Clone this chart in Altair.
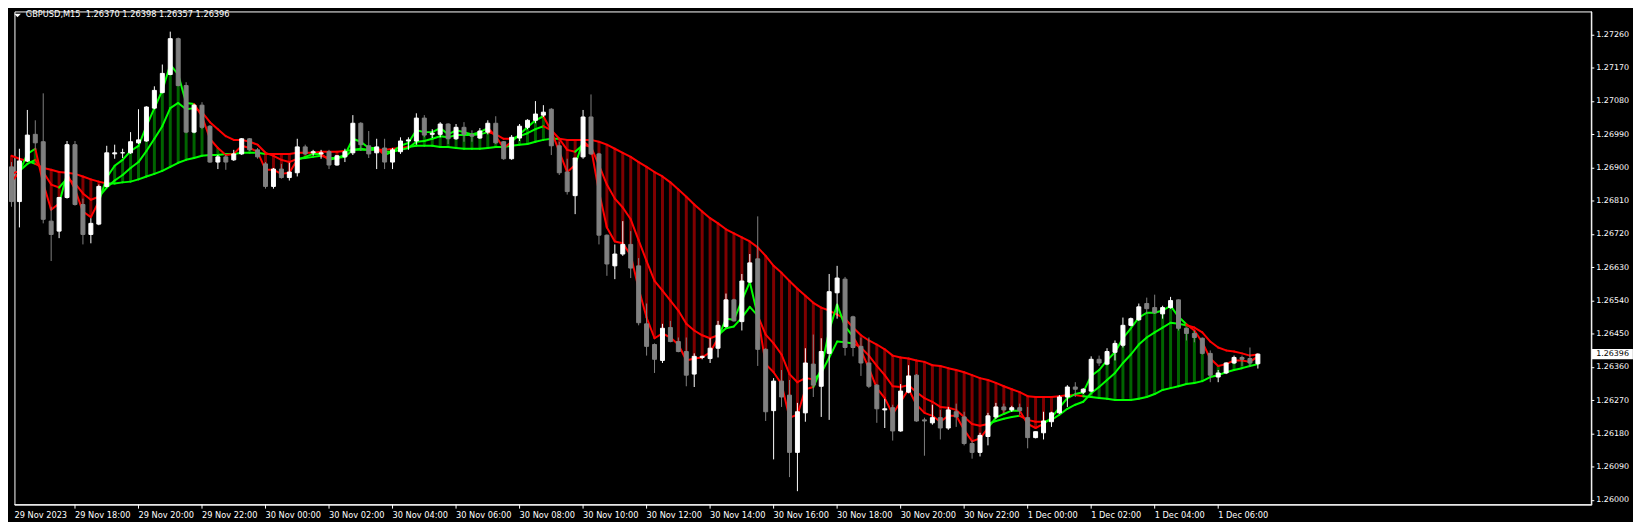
import altair as alt
import pandas as pd

symbol = "GBPUSD,M15"

open_ = [
    1.26903, 1.26809, 1.26919, 1.26991, 1.26971, 1.26756, 1.26729, 1.26820, 1.26963, 1.26801,
    1.26720, 1.26748, 1.26850, 1.26938, 1.26941, 1.26941, 1.26968, 1.26973, 1.27062, 1.27104,
    1.27153, 1.27250, 1.27123, 1.26997, 1.27070, 1.27013, 1.26916, 1.26930, 1.26922, 1.26938,
    1.26979, 1.26949, 1.26911, 1.26850, 1.26897, 1.26874, 1.26887, 1.26957, 1.26941, 1.26938,
    1.26944, 1.26908, 1.26930, 1.26941, 1.27021, 1.26960, 1.26941, 1.26954, 1.26916, 1.26944,
    1.26973, 1.26973, 1.27035, 1.26991, 1.26991, 1.27019, 1.26979, 1.27010, 1.26991, 1.26981,
    1.26997, 1.27021, 1.26971, 1.26925, 1.26981, 1.27010, 1.27029, 1.27043, 1.27059, 1.26960,
    1.26889, 1.26825, 1.26930, 1.27038, 1.26938, 1.26718, 1.26635, 1.26667, 1.26693, 1.26635,
    1.26478, 1.26422, 1.26379, 1.26468, 1.26430, 1.26403, 1.26342, 1.26387, 1.26384, 1.26412,
    1.26471, 1.26543, 1.26484, 1.26591, 1.26654, 1.26409, 1.26243, 1.26323, 1.26285, 1.26130,
    1.26237, 1.26369, 1.26309, 1.26398, 1.26562, 1.26599, 1.26497, 1.26417, 1.26372, 1.26312,
    1.26245, 1.26251, 1.26188, 1.26293, 1.26339, 1.26218, 1.26210, 1.26224, 1.26196, 1.26240,
    1.26226, 1.26154, 1.26130, 1.26173, 1.26226, 1.26253, 1.26245, 1.26251, 1.26224, 1.26170,
    1.26183, 1.26213, 1.26237, 1.26280, 1.26307, 1.26293, 1.26296, 1.26382, 1.26369, 1.26401,
    1.26420, 1.26474, 1.26489, 1.26533, 1.26522, 1.26505, 1.26522, 1.26543, 1.26466, 1.26452,
    1.26439, 1.26398, 1.26334, 1.26345, 1.26372, 1.26387, 1.26384, 1.26370,
]
high = [
    1.26916, 1.26952, 1.27057, 1.27029, 1.27102, 1.26795, 1.26822, 1.26973, 1.26973, 1.26817,
    1.26764, 1.26855, 1.26960, 1.26963, 1.26952, 1.26997, 1.27059, 1.27067, 1.27121, 1.27180,
    1.27269, 1.27253, 1.27132, 1.27073, 1.27078, 1.27016, 1.26935, 1.26935, 1.26949, 1.26981,
    1.26981, 1.26954, 1.26916, 1.26900, 1.26911, 1.26914, 1.26979, 1.26963, 1.26949, 1.26949,
    1.26949, 1.26935, 1.26952, 1.27043, 1.27024, 1.27000, 1.26979, 1.26979, 1.26954, 1.26983,
    1.26983, 1.27048, 1.27043, 1.27005, 1.27024, 1.27021, 1.27019, 1.27024, 1.27002, 1.27008,
    1.27029, 1.27040, 1.26973, 1.26989, 1.27019, 1.27032, 1.27081, 1.27070, 1.27062, 1.26971,
    1.26925, 1.26927, 1.27057, 1.27099, 1.26941, 1.26720, 1.26693, 1.26756, 1.26729, 1.26656,
    1.26533, 1.26425, 1.26478, 1.26486, 1.26441, 1.26441, 1.26398, 1.26392, 1.26439, 1.26486,
    1.26560, 1.26546, 1.26613, 1.26667, 1.26769, 1.26412, 1.26331, 1.26353, 1.26326, 1.26264,
    1.26412, 1.26449, 1.26439, 1.26613, 1.26635, 1.26605, 1.26500, 1.26441, 1.26441, 1.26315,
    1.26275, 1.26259, 1.26315, 1.26366, 1.26342, 1.26224, 1.26259, 1.26245, 1.26253, 1.26262,
    1.26240, 1.26162, 1.26183, 1.26237, 1.26264, 1.26262, 1.26256, 1.26262, 1.26253, 1.26186,
    1.26240, 1.26240, 1.26285, 1.26312, 1.26320, 1.26304, 1.26390, 1.26392, 1.26412, 1.26433,
    1.26495, 1.26495, 1.26533, 1.26549, 1.26557, 1.26527, 1.26551, 1.26544, 1.26468, 1.26460,
    1.26441, 1.26406, 1.26353, 1.26374, 1.26392, 1.26392, 1.26414, 1.26398,
]
low = [
    1.26795, 1.26739, 1.26916, 1.26949, 1.26750, 1.26648, 1.26710, 1.26817, 1.26798, 1.26693,
    1.26696, 1.26745, 1.26847, 1.26925, 1.26927, 1.26938, 1.26965, 1.26971, 1.27059, 1.27102,
    1.27151, 1.27121, 1.26994, 1.26994, 1.27005, 1.26914, 1.26897, 1.26895, 1.26919, 1.26935,
    1.26946, 1.26925, 1.26844, 1.26844, 1.26871, 1.26866, 1.26877, 1.26935, 1.26933, 1.26925,
    1.26897, 1.26906, 1.26916, 1.26935, 1.26946, 1.26927, 1.26897, 1.26897, 1.26897, 1.26938,
    1.26949, 1.26963, 1.26983, 1.26981, 1.26983, 1.26965, 1.26976, 1.26971, 1.26971, 1.26979,
    1.26991, 1.26965, 1.26922, 1.26922, 1.26973, 1.27005, 1.27021, 1.27038, 1.26935, 1.26881,
    1.26828, 1.26775, 1.26925, 1.26935, 1.26693, 1.26608, 1.26599, 1.26662, 1.26602, 1.26474,
    1.26392, 1.26345, 1.26372, 1.26428, 1.26401, 1.26309, 1.26307, 1.26382, 1.26372, 1.26387,
    1.26468, 1.26484, 1.26460, 1.26589, 1.26364, 1.26215, 1.26111, 1.26253, 1.26063, 1.26025,
    1.26213, 1.26280, 1.26226, 1.26218, 1.26492, 1.26392, 1.26390, 1.26337, 1.26304, 1.26210,
    1.26196, 1.26162, 1.26186, 1.26290, 1.26213, 1.26121, 1.26205, 1.26165, 1.26191, 1.26199,
    1.26149, 1.26113, 1.26119, 1.26149, 1.26221, 1.26237, 1.26240, 1.26232, 1.26141, 1.26168,
    1.26165, 1.26199, 1.26234, 1.26253, 1.26280, 1.26288, 1.26293, 1.26364, 1.26366, 1.26379,
    1.26414, 1.26471, 1.26486, 1.26505, 1.26505, 1.26492, 1.26519, 1.26460, 1.26433, 1.26428,
    1.26395, 1.26320, 1.26320, 1.26342, 1.26369, 1.26364, 1.26361, 1.26357,
]
close = [
    1.26809, 1.26919, 1.26989, 1.26968, 1.26761, 1.26720, 1.26820, 1.26963, 1.26801, 1.26720,
    1.26750, 1.26850, 1.26941, 1.26941, 1.26941, 1.26971, 1.26976, 1.27065, 1.27110, 1.27156,
    1.27250, 1.27123, 1.26997, 1.27070, 1.27010, 1.26916, 1.26930, 1.26916, 1.26938, 1.26979,
    1.26949, 1.26930, 1.26850, 1.26897, 1.26874, 1.26889, 1.26957, 1.26938, 1.26944, 1.26941,
    1.26908, 1.26933, 1.26944, 1.27021, 1.26963, 1.26938, 1.26957, 1.26916, 1.26949, 1.26973,
    1.26976, 1.27035, 1.26989, 1.26994, 1.27019, 1.26979, 1.27010, 1.26991, 1.26986, 1.27000,
    1.27021, 1.26968, 1.26925, 1.26983, 1.27013, 1.27029, 1.27046, 1.27051, 1.26960, 1.26887,
    1.26836, 1.26927, 1.27038, 1.26938, 1.26718, 1.26640, 1.26667, 1.26693, 1.26629, 1.26481,
    1.26417, 1.26382, 1.26466, 1.26430, 1.26403, 1.26339, 1.26390, 1.26390, 1.26412, 1.26474,
    1.26543, 1.26486, 1.26594, 1.26643, 1.26409, 1.26240, 1.26323, 1.26280, 1.26130, 1.26240,
    1.26372, 1.26312, 1.26403, 1.26565, 1.26602, 1.26414, 1.26414, 1.26372, 1.26309, 1.26248,
    1.26248, 1.26188, 1.26296, 1.26337, 1.26215, 1.26215, 1.26224, 1.26196, 1.26245, 1.26226,
    1.26154, 1.26130, 1.26176, 1.26229, 1.26253, 1.26245, 1.26251, 1.26243, 1.26170, 1.26186,
    1.26215, 1.26237, 1.26280, 1.26307, 1.26301, 1.26301, 1.26382, 1.26372, 1.26403, 1.26425,
    1.26474, 1.26492, 1.26524, 1.26519, 1.26508, 1.26522, 1.26541, 1.26466, 1.26452, 1.26441,
    1.26398, 1.26339, 1.26345, 1.26372, 1.26387, 1.26382, 1.26372, 1.26396,
]
ma_fast = [
    1.26863, 1.26889, 1.26938, 1.26952, 1.26858, 1.26787, 1.26804, 1.26884, 1.26842, 1.26782,
    1.26767, 1.26809, 1.26874, 1.26906, 1.26922, 1.26946, 1.26960, 1.27013, 1.27062, 1.27110,
    1.27180, 1.27153, 1.27076, 1.27073, 1.27040, 1.26979, 1.26954, 1.26935, 1.26938, 1.26960,
    1.26954, 1.26944, 1.26895, 1.26895, 1.26884, 1.26887, 1.26922, 1.26930, 1.26938, 1.26938,
    1.26922, 1.26927, 1.26935, 1.26979, 1.26971, 1.26954, 1.26954, 1.26935, 1.26944, 1.26960,
    1.26968, 1.27002, 1.26997, 1.26997, 1.27008, 1.26991, 1.27002, 1.26997, 1.26991, 1.26997,
    1.27008, 1.26986, 1.26954, 1.26971, 1.26991, 1.27010, 1.27029, 1.27040, 1.27000, 1.26944,
    1.26889, 1.26908, 1.26973, 1.26954, 1.26836, 1.26739, 1.26701, 1.26696, 1.26664, 1.26573,
    1.26495, 1.26439, 1.26452, 1.26441, 1.26422, 1.26379, 1.26384, 1.26387, 1.26401, 1.26439,
    1.26492, 1.26489, 1.26541, 1.26591, 1.26500, 1.26369, 1.26347, 1.26315, 1.26224, 1.26232,
    1.26301, 1.26307, 1.26356, 1.26460, 1.26530, 1.26471, 1.26444, 1.26406, 1.26358, 1.26304,
    1.26277, 1.26234, 1.26267, 1.26301, 1.26259, 1.26237, 1.26229, 1.26213, 1.26229, 1.26229,
    1.26191, 1.26160, 1.26168, 1.26196, 1.26224, 1.26234, 1.26243, 1.26243, 1.26207, 1.26196,
    1.26207, 1.26224, 1.26251, 1.26277, 1.26288, 1.26293, 1.26337, 1.26353, 1.26379, 1.26401,
    1.26439, 1.26466, 1.26495, 1.26508, 1.26508, 1.26514, 1.26527, 1.26497, 1.26477, 1.26460,
    1.26428, 1.26384, 1.26364, 1.26369, 1.26379, 1.26379, 1.26375, 1.26390,
]
ma_mid = [
    1.26884, 1.26892, 1.26911, 1.26922, 1.26889, 1.26855, 1.26847, 1.26871, 1.26858, 1.26831,
    1.26814, 1.26822, 1.26847, 1.26866, 1.26881, 1.26900, 1.26916, 1.26946, 1.26979, 1.27013,
    1.27062, 1.27076, 1.27059, 1.27062, 1.27051, 1.27024, 1.27005, 1.26986, 1.26976, 1.26976,
    1.26971, 1.26963, 1.26941, 1.26933, 1.26922, 1.26916, 1.26925, 1.26927, 1.26930, 1.26933,
    1.26927, 1.26927, 1.26930, 1.26949, 1.26952, 1.26949, 1.26952, 1.26944, 1.26944, 1.26949,
    1.26954, 1.26971, 1.26973, 1.26979, 1.26986, 1.26983, 1.26989, 1.26989, 1.26989, 1.26991,
    1.26997, 1.26991, 1.26979, 1.26979, 1.26986, 1.26994, 1.27005, 1.27013, 1.27002, 1.26979,
    1.26949, 1.26944, 1.26963, 1.26957, 1.26908, 1.26855, 1.26817, 1.26793, 1.26761, 1.26704,
    1.26648, 1.26594, 1.26568, 1.26541, 1.26514, 1.26478, 1.26460, 1.26447, 1.26439, 1.26447,
    1.26466, 1.26471, 1.26495, 1.26524, 1.26500, 1.26449, 1.26425, 1.26395, 1.26342, 1.26320,
    1.26331, 1.26328, 1.26345, 1.26387, 1.26430, 1.26428, 1.26425, 1.26414, 1.26392, 1.26364,
    1.26339, 1.26309, 1.26307, 1.26312, 1.26293, 1.26277, 1.26267, 1.26253, 1.26251, 1.26245,
    1.26226, 1.26207, 1.26202, 1.26207, 1.26215, 1.26221, 1.26226, 1.26229, 1.26218, 1.26213,
    1.26213, 1.26218, 1.26232, 1.26248, 1.26259, 1.26267, 1.26290, 1.26307, 1.26326, 1.26345,
    1.26372, 1.26395, 1.26422, 1.26441, 1.26455, 1.26468, 1.26481, 1.26478, 1.26474, 1.26468,
    1.26455, 1.26430, 1.26414, 1.26406, 1.26403, 1.26398, 1.26392, 1.26395,
]
ma_slow = [
    1.26933, 1.26925, 1.26919, 1.26911, 1.26900, 1.26895, 1.26889, 1.26887, 1.26884, 1.26877,
    1.26869, 1.26863, 1.26858, 1.26858, 1.26861, 1.26863, 1.26869, 1.26877, 1.26884, 1.26892,
    1.26903, 1.26914, 1.26922, 1.26927, 1.26933, 1.26935, 1.26935, 1.26938, 1.26938, 1.26941,
    1.26941, 1.26941, 1.26938, 1.26938, 1.26938, 1.26938, 1.26941, 1.26941, 1.26941, 1.26944,
    1.26944, 1.26944, 1.26946, 1.26949, 1.26949, 1.26949, 1.26949, 1.26949, 1.26952, 1.26954,
    1.26957, 1.26960, 1.26960, 1.26960, 1.26957, 1.26957, 1.26954, 1.26952, 1.26952, 1.26952,
    1.26954, 1.26957, 1.26957, 1.26960, 1.26963, 1.26965, 1.26971, 1.26976, 1.26979, 1.26979,
    1.26976, 1.26976, 1.26976, 1.26976, 1.26971, 1.26963, 1.26952, 1.26941, 1.26930, 1.26916,
    1.26903, 1.26889, 1.26877, 1.26861, 1.26842, 1.26822, 1.26801, 1.26782, 1.26764, 1.26750,
    1.26734, 1.26723, 1.26712, 1.26701, 1.26685, 1.26662, 1.26635, 1.26616, 1.26594, 1.26573,
    1.26554, 1.26535, 1.26522, 1.26514, 1.26503, 1.26492, 1.26468, 1.26447, 1.26433, 1.26422,
    1.26409, 1.26392, 1.26387, 1.26384, 1.26379, 1.26375, 1.26366, 1.26364, 1.26358, 1.26353,
    1.26347, 1.26339, 1.26331, 1.26326, 1.26318, 1.26309, 1.26301, 1.26293, 1.26282, 1.26280,
    1.26280, 1.26280, 1.26282, 1.26285, 1.26285, 1.26282, 1.26280, 1.26277, 1.26275, 1.26272,
    1.26272, 1.26272, 1.26275, 1.26280, 1.26288, 1.26299, 1.26304, 1.26309, 1.26315, 1.26318,
    1.26323, 1.26334, 1.26339, 1.26347, 1.26353, 1.26358, 1.26364, 1.26369,
]

time_labels = [
    "29 Nov 2023", "29 Nov 18:00", "29 Nov 20:00", "29 Nov 22:00", "30 Nov 00:00",
    "30 Nov 02:00", "30 Nov 04:00", "30 Nov 06:00", "30 Nov 08:00", "30 Nov 10:00",
    "30 Nov 12:00", "30 Nov 14:00", "30 Nov 16:00", "30 Nov 18:00", "30 Nov 20:00",
    "30 Nov 22:00", "1 Dec 00:00", "1 Dec 02:00", "1 Dec 04:00", "1 Dec 06:00",
]
bars_per_label = 8  # 2 hours of 15-minute bars
price_ticks = [
    1.26000, 1.26090, 1.26180, 1.26270, 1.26360, 1.26450, 1.26540, 1.26630,
    1.26720, 1.26810, 1.26900, 1.26990, 1.27080, 1.27170, 1.27260,
]

BULL, BEAR = "#FFFFFF", "#808080"
UP_LINE, DN_LINE = "#00FF00", "#FF0000"
UP_FILL, DN_FILL = "#006400", "#800000"
FONT = "DejaVu Sans"

n = len(close)
bars = pd.DataFrame({
    "i": list(range(n)), "o": open_, "h": high, "l": low, "c": close,
    "f": ma_fast, "m": ma_mid, "s": ma_slow,
})
bars["col"] = [BULL if c >= o else BEAR for o, c in zip(open_, close)]
bars["fillcol"] = [UP_FILL if f >= s else DN_FILL for f, s in zip(ma_fast, ma_slow)]
bars["xl"] = bars["i"] - 0.25
bars["xr"] = bars["i"] + 0.25

rows = []
for i in range(1, n):
    fm = UP_LINE if ma_fast[i] >= ma_mid[i] else DN_LINE
    ms = UP_LINE if ma_mid[i] >= ma_slow[i] else DN_LINE
    for name, arr, colr in (("slow", ma_slow, ms), ("mid", ma_mid, fm), ("fast", ma_fast, fm)):
        rows.append({"line": name, "x0": i - 1, "x1": i, "y0": arr[i - 1], "y1": arr[i], "col": colr})
segs = pd.DataFrame(rows)

W, H = 1589, 497
xs = alt.Scale(domain=[0.375, 199.0], nice=False, zero=False)
ys = alt.Scale(domain=[1.259885, 1.273237], nice=False, zero=False)

tick_idx = list(range(1, len(time_labels)))  # first label drawn separately (its tick sits under the page edge)
label_js = "[" + ",".join("'" + t + "'" for t in time_labels) + "]"
x_axis = alt.Axis(
    orient="bottom", values=[bars_per_label * j for j in tick_idx],
    labelExpr=label_js + "[round(datum.value / " + str(bars_per_label) + ")]",
    grid=False, title=None, domainColor="#FFFFFF", tickColor="#FFFFFF", tickSize=4,
    labelColor="#FFFFFF", labelFont=FONT, labelFontSize=8.3, labelAlign="left",
    labelBaseline="top", labelPadding=2, labelOverlap=False, labelFlush=False,
    labelBound=False, translate=0,
)
y_axis = alt.Axis(
    orient="right", values=price_ticks, format=".5f", grid=False, title=None,
    domainColor="#FFFFFF", tickColor="#FFFFFF", tickSize=3, labelColor="#FFFFFF",
    labelFont=FONT, labelFontSize=8, labelPadding=2, labelOverlap=False,
    labelFlush=False, translate=0,
)


def X(field):
    return alt.X(field, scale=xs, axis=x_axis)


def Y(field):
    return alt.Y(field, scale=ys, axis=y_axis)


fill_layer = alt.Chart(bars).mark_rule(strokeWidth=3).encode(
    x=X("i:Q"), y=Y("f:Q"), y2="s:Q",
    color=alt.Color("fillcol:N", scale=None),
)
line_layer = alt.Chart(segs).mark_rule(strokeWidth=2, strokeCap="round").encode(
    x=X("x0:Q"), x2="x1:Q", y=Y("y0:Q"), y2="y1:Q",
    color=alt.Color("col:N", scale=None),
)
wick_layer = alt.Chart(bars).mark_rule(strokeWidth=1).encode(
    x=X("i:Q"), y=Y("l:Q"), y2="h:Q",
    color=alt.Color("col:N", scale=None),
)
body_layer = alt.Chart(bars).mark_rect(strokeWidth=1).encode(
    x=X("xl:Q"), x2="xr:Q", y=Y("o:Q"), y2="c:Q",
    fill=alt.Fill("col:N", scale=None),
    stroke=alt.Stroke("col:N", scale=None),
)

title_text = symbol + "\u00a0 " + " ".join(f"{v:.5f}" for v in (open_[-1], high[-1], low[-1], close[-1]))
title_df = pd.DataFrame({"t": [title_text]})
title_layer = alt.Chart(title_df).mark_text(
    align="left", baseline="middle", color="#FFFFFF", font=FONT, fontSize=8.3
).encode(x=alt.value(11.5), y=alt.value(4), text="t:N")
tri_layer = alt.Chart(title_df).mark_point(
    shape="M-1,-0.5L1,-0.5L0,0.5Z", size=45, filled=True, color="#FFFFFF", opacity=1, strokeWidth=0
).encode(x=alt.value(3.1), y=alt.value(4.1))

first_df = pd.DataFrame({"t": [time_labels[0]]})
first_label = alt.Chart(first_df).mark_text(
    align="left", baseline="top", color="#FFFFFF", font=FONT, fontSize=8.3
).encode(x=alt.value(0), y=alt.value(H + 6), text="t:N")

last_df = pd.DataFrame({"c": [close[-1]], "t": [f"{close[-1]:.5f}"]})
box_layer = alt.Chart(last_df).mark_point(
    shape="M-1,-0.244L1,-0.244L1,0.244L-1,0.244Z", size=1714, filled=True,
    color="#FFFFFF", opacity=1, strokeWidth=0
).encode(x=alt.value(W + 21.2), y=Y("c:Q"))
price_text = alt.Chart(last_df).mark_text(
    align="left", baseline="middle", color="#000000", font=FONT, fontSize=8
).encode(x=alt.value(W + 4.9), y=Y("c:Q"), text="t:N")

chart = alt.layer(
    fill_layer, line_layer, wick_layer, body_layer, title_layer, tri_layer,
    first_label, box_layer, price_text
).properties(
    width=W, height=H,
    padding={"left": 0.5, "top": 0.5, "right": 0, "bottom": 0},
    background="#000000",
).configure_view(stroke="#FFFFFF", strokeWidth=1)

chart.save("out.html", embed_options={"renderer": "svg", "actions": False})
